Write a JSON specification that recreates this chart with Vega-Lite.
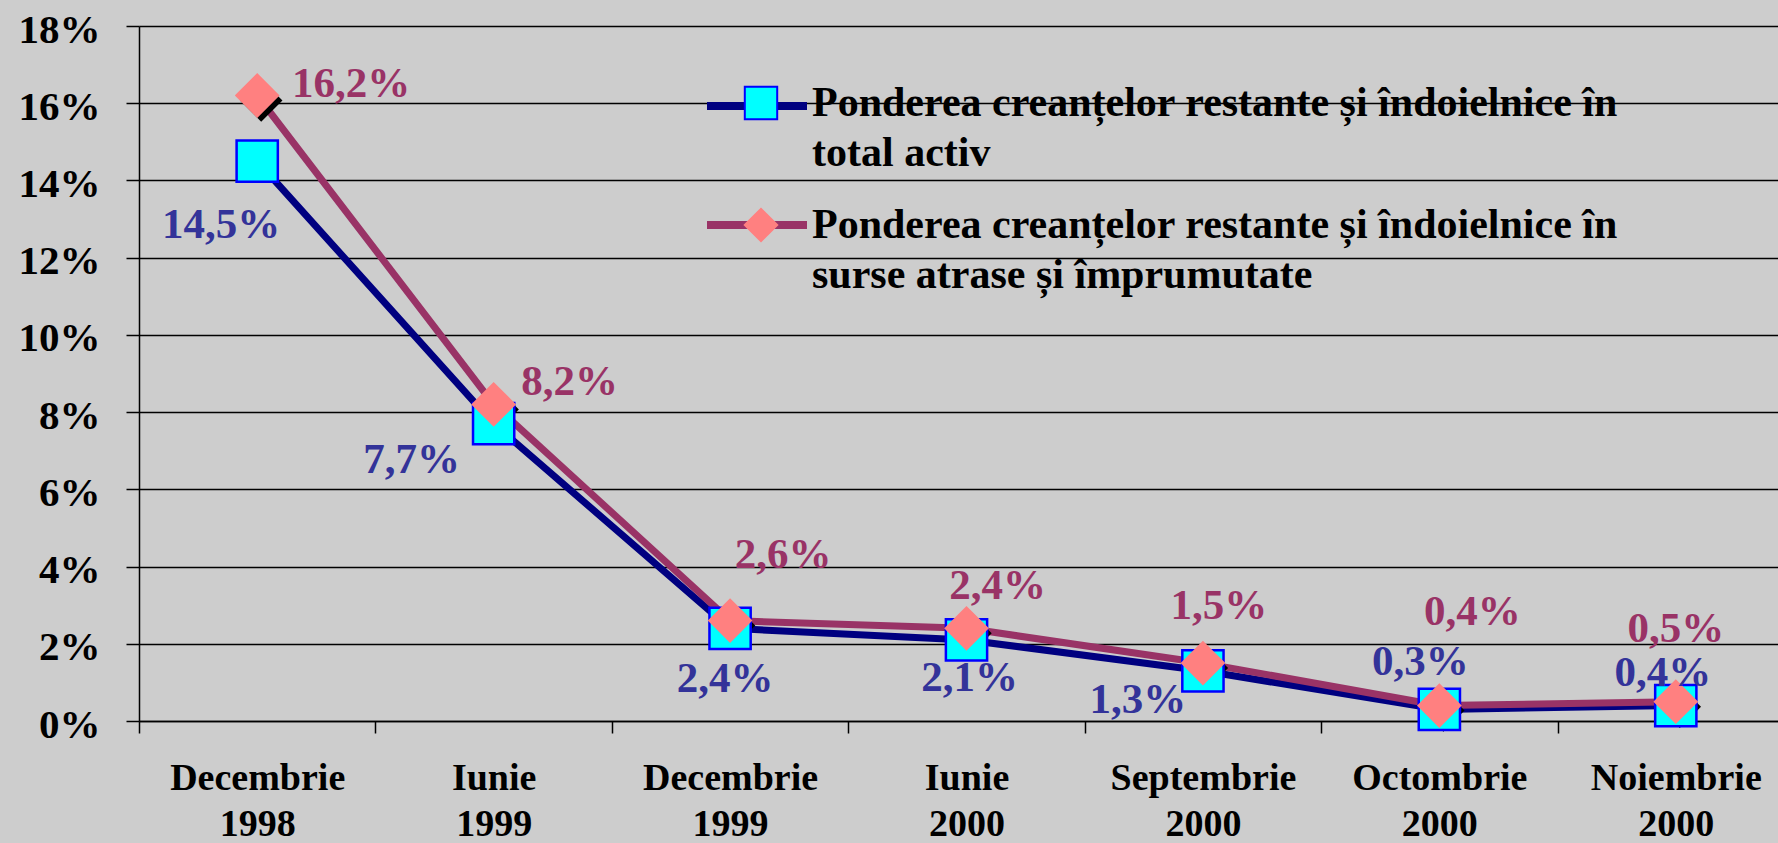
{
  "$schema": "https://vega.github.io/schema/vega-lite/v6.json",
  "width": 1639,
  "height": 695,
  "autosize": {"type": "none"},
  "padding": {"left": 139, "top": 26, "right": 0, "bottom": 122},
  "background": "#cdcdcd",
  "config": {
    "view": {"stroke": null},
    "font": "Liberation Serif",
    "locale": {"number": {"decimal": ",", "thousands": ".", "grouping": [3], "currency": ["", " lei"]}},
    "style": {"guide-label": {"lineHeight": 50}}
  },
  "data": {
    "values": [
      {"luna": "Decembrie 1998", "serie": "Ponderea creanțelor restante și îndoielnice în total activ", "valoare": 0.145},
      {"luna": "Iunie 1999", "serie": "Ponderea creanțelor restante și îndoielnice în total activ", "valoare": 0.077},
      {"luna": "Decembrie 1999", "serie": "Ponderea creanțelor restante și îndoielnice în total activ", "valoare": 0.024},
      {"luna": "Iunie 2000", "serie": "Ponderea creanțelor restante și îndoielnice în total activ", "valoare": 0.021},
      {"luna": "Septembrie 2000", "serie": "Ponderea creanțelor restante și îndoielnice în total activ", "valoare": 0.013},
      {"luna": "Octombrie 2000", "serie": "Ponderea creanțelor restante și îndoielnice în total activ", "valoare": 0.003},
      {"luna": "Noiembrie 2000", "serie": "Ponderea creanțelor restante și îndoielnice în total activ", "valoare": 0.004},
      {"luna": "Decembrie 1998", "serie": "Ponderea creanțelor restante și îndoielnice în surse atrase și împrumutate", "valoare": 0.162},
      {"luna": "Iunie 1999", "serie": "Ponderea creanțelor restante și îndoielnice în surse atrase și împrumutate", "valoare": 0.082},
      {"luna": "Decembrie 1999", "serie": "Ponderea creanțelor restante și îndoielnice în surse atrase și împrumutate", "valoare": 0.026},
      {"luna": "Iunie 2000", "serie": "Ponderea creanțelor restante și îndoielnice în surse atrase și împrumutate", "valoare": 0.024},
      {"luna": "Septembrie 2000", "serie": "Ponderea creanțelor restante și îndoielnice în surse atrase și împrumutate", "valoare": 0.015},
      {"luna": "Octombrie 2000", "serie": "Ponderea creanțelor restante și îndoielnice în surse atrase și împrumutate", "valoare": 0.004},
      {"luna": "Noiembrie 2000", "serie": "Ponderea creanțelor restante și îndoielnice în surse atrase și împrumutate", "valoare": 0.005}
    ]
  },
  "encoding": {
    "x": {
      "field": "luna",
      "type": "nominal",
      "scale": {
        "type": "band",
        "domain": ["Decembrie 1998", "Iunie 1999", "Decembrie 1999", "Iunie 2000", "Septembrie 2000", "Octombrie 2000", "Noiembrie 2000"],
        "range": [0, 1655],
        "paddingInner": 0,
        "paddingOuter": 0
      },
      "axis": {
        "title": null,
        "labelExpr": "split(datum.label, ' ')",
        "labelAngle": 0,
        "labelFont": "Liberation Serif",
        "labelFontWeight": "bold",
        "labelFontSize": 38,
        "labelColor": "black",
        "labelBaseline": "top",
        "labelLineHeight": 46,
        "labelPadding": 26,
        "labelLimit": 500,
        "labelOverlap": false,
        "tickBand": "extent",
        "tickSize": 12,
        "tickColor": "black",
        "tickWidth": 1.5,
        "domainColor": "black",
        "domainWidth": 1.5,
        "grid": false
      }
    },
    "y": {
      "field": "valoare",
      "type": "quantitative",
      "scale": {"domain": [0, 0.18], "nice": false},
      "axis": {
        "title": null,
        "values": [0, 0.02, 0.04, 0.06, 0.08, 0.1, 0.12, 0.14, 0.16, 0.18],
        "format": ".0%",
        "labelFont": "Liberation Serif",
        "labelFontWeight": "bold",
        "labelFontSize": 41,
        "labelColor": "black",
        "labelPadding": 26,
        "labelOffset": 4,
        "tickSize": 13,
        "tickColor": "black",
        "tickWidth": 1.5,
        "domainColor": "black",
        "domainWidth": 1.5,
        "grid": true,
        "gridColor": "black",
        "gridWidth": 1.3,
        "gridOpacity": 1
      }
    }
  },
  "layer": [
    {
      "transform": [{"filter": "indexof(datum.serie, 'total activ') > 0"}],
      "mark": {"type": "line", "strokeWidth": 7, "strokeJoin": "round", "strokeCap": "round"},
      "encoding": {
        "color": {
          "field": "serie",
          "type": "nominal",
          "scale": {
            "domain": ["Ponderea creanțelor restante și îndoielnice în total activ", "Ponderea creanțelor restante și îndoielnice în surse atrase și împrumutate"],
            "range": ["#000080", "#993366"]
          },
          "legend": {
            "orient": "none",
            "legendX": 564,
            "legendY": 26,
            "title": null,
            "padding": 0,
            "symbolType": "stroke",
            "symbolSize": 10000,
            "symbolStrokeWidth": 8,
            "symbolOffset": 0,
            "labelExpr": "''",
            "labelFontSize": 1,
            "labelOffset": 0,
            "rowPadding": 49
          }
        }
      }
    },
    {
      "transform": [{"filter": "indexof(datum.serie, 'surse') > 0"}],
      "mark": {"type": "line", "strokeWidth": 7, "strokeJoin": "round", "strokeCap": "round"},
      "encoding": {
        "color": {"field": "serie", "type": "nominal"}
      }
    },
    {
      "transform": [{"filter": "indexof(datum.serie, 'surse') > 0"}],
      "mark": {"type": "point", "shape": "diamond", "filled": true, "color": "black", "opacity": 1, "size": 1800, "xOffset": 4, "yOffset": 5}
    },
    {
      "mark": {"type": "point", "filled": true, "opacity": 1, "size": 1700, "strokeWidth": 2.5},
      "encoding": {
        "shape": {
          "field": "serie",
          "type": "nominal",
          "scale": {"range": ["diamond", "square"]},
          "legend": {
            "orient": "none", "legendX": 601, "legendY": 56, "title": null, "padding": 0,
            "values": ["Ponderea creanțelor restante și îndoielnice în total activ", "Ponderea creanțelor restante și îndoielnice în surse atrase și împrumutate"],
            "labelExpr": "[substring(datum.label, 0, 46), substring(datum.label, 47)]",
            "labelFont": "Liberation Serif", "labelFontWeight": "bold", "labelFontSize": 42, "labelColor": "black",
            "labelLimit": 2000, "labelBaseline": "middle", "labelOffset": 30,
            "symbolSize": 1050, "symbolStrokeWidth": 2, "symbolOffset": 0, "rowPadding": 30
          }
        },
        "fill": {
          "field": "serie",
          "type": "nominal",
          "scale": {"range": ["#FF8080", "#00FFFF"]},
          "legend": {
            "orient": "none", "legendX": 601, "legendY": 56, "title": null, "padding": 0,
            "values": ["Ponderea creanțelor restante și îndoielnice în total activ", "Ponderea creanțelor restante și îndoielnice în surse atrase și împrumutate"],
            "labelExpr": "[substring(datum.label, 0, 46), substring(datum.label, 47)]",
            "labelFont": "Liberation Serif", "labelFontWeight": "bold", "labelFontSize": 42, "labelColor": "black",
            "labelLimit": 2000, "labelBaseline": "middle", "labelOffset": 30,
            "symbolSize": 1050, "symbolStrokeWidth": 2, "symbolOffset": 0, "rowPadding": 30
          }
        },
        "stroke": {
          "field": "serie",
          "type": "nominal",
          "scale": {"range": ["#FF8080", "#0000FF"]},
          "legend": {
            "orient": "none", "legendX": 601, "legendY": 56, "title": null, "padding": 0,
            "values": ["Ponderea creanțelor restante și îndoielnice în total activ", "Ponderea creanțelor restante și îndoielnice în surse atrase și împrumutate"],
            "labelExpr": "[substring(datum.label, 0, 46), substring(datum.label, 47)]",
            "labelFont": "Liberation Serif", "labelFontWeight": "bold", "labelFontSize": 42, "labelColor": "black",
            "labelLimit": 2000, "labelBaseline": "middle", "labelOffset": 30,
            "symbolSize": 1050, "symbolStrokeWidth": 2, "symbolOffset": 0, "rowPadding": 30
          }
        }
      }
    },
    {"transform": [{"filter": "datum.luna == 'Decembrie 1998' && indexof(datum.serie, 'total activ') > 0"}], "mark": {"type": "text", "dx": -36, "dy": 64, "fontSize": 43, "fontWeight": "bold", "color": "#333399"}, "encoding": {"text": {"field": "valoare", "type": "quantitative", "format": ".1%"}}},
    {"transform": [{"filter": "datum.luna == 'Iunie 1999' && indexof(datum.serie, 'total activ') > 0"}], "mark": {"type": "text", "dx": -82, "dy": 36, "fontSize": 43, "fontWeight": "bold", "color": "#333399"}, "encoding": {"text": {"field": "valoare", "type": "quantitative", "format": ".1%"}}},
    {"transform": [{"filter": "datum.luna == 'Decembrie 1999' && indexof(datum.serie, 'total activ') > 0"}], "mark": {"type": "text", "dx": -5, "dy": 51, "fontSize": 43, "fontWeight": "bold", "color": "#333399"}, "encoding": {"text": {"field": "valoare", "type": "quantitative", "format": ".1%"}}},
    {"transform": [{"filter": "datum.luna == 'Iunie 2000' && indexof(datum.serie, 'total activ') > 0"}], "mark": {"type": "text", "dx": 3, "dy": 38, "fontSize": 43, "fontWeight": "bold", "color": "#333399"}, "encoding": {"text": {"field": "valoare", "type": "quantitative", "format": ".1%"}}},
    {"transform": [{"filter": "datum.luna == 'Septembrie 2000' && indexof(datum.serie, 'total activ') > 0"}], "mark": {"type": "text", "dx": -65, "dy": 29, "fontSize": 43, "fontWeight": "bold", "color": "#333399"}, "encoding": {"text": {"field": "valoare", "type": "quantitative", "format": ".1%"}}},
    {"transform": [{"filter": "datum.luna == 'Octombrie 2000' && indexof(datum.serie, 'total activ') > 0"}], "mark": {"type": "text", "dx": -19, "dy": -47, "fontSize": 43, "fontWeight": "bold", "color": "#333399"}, "encoding": {"text": {"field": "valoare", "type": "quantitative", "format": ".1%"}}},
    {"transform": [{"filter": "datum.luna == 'Noiembrie 2000' && indexof(datum.serie, 'total activ') > 0"}], "mark": {"type": "text", "dx": -13, "dy": -33, "fontSize": 43, "fontWeight": "bold", "color": "#333399"}, "encoding": {"text": {"field": "valoare", "type": "quantitative", "format": ".1%"}}},
    {"transform": [{"filter": "datum.luna == 'Decembrie 1998' && indexof(datum.serie, 'surse') > 0"}], "mark": {"type": "text", "dx": 94, "dy": -12, "fontSize": 43, "fontWeight": "bold", "color": "#993366"}, "encoding": {"text": {"field": "valoare", "type": "quantitative", "format": ".1%"}}},
    {"transform": [{"filter": "datum.luna == 'Iunie 1999' && indexof(datum.serie, 'surse') > 0"}], "mark": {"type": "text", "dx": 76, "dy": -22, "fontSize": 43, "fontWeight": "bold", "color": "#993366"}, "encoding": {"text": {"field": "valoare", "type": "quantitative", "format": ".1%"}}},
    {"transform": [{"filter": "datum.luna == 'Decembrie 1999' && indexof(datum.serie, 'surse') > 0"}], "mark": {"type": "text", "dx": 53, "dy": -66, "fontSize": 43, "fontWeight": "bold", "color": "#993366"}, "encoding": {"text": {"field": "valoare", "type": "quantitative", "format": ".1%"}}},
    {"transform": [{"filter": "datum.luna == 'Iunie 2000' && indexof(datum.serie, 'surse') > 0"}], "mark": {"type": "text", "dx": 31, "dy": -42, "fontSize": 43, "fontWeight": "bold", "color": "#993366"}, "encoding": {"text": {"field": "valoare", "type": "quantitative", "format": ".1%"}}},
    {"transform": [{"filter": "datum.luna == 'Septembrie 2000' && indexof(datum.serie, 'surse') > 0"}], "mark": {"type": "text", "dx": 16, "dy": -57, "fontSize": 43, "fontWeight": "bold", "color": "#993366"}, "encoding": {"text": {"field": "valoare", "type": "quantitative", "format": ".1%"}}},
    {"transform": [{"filter": "datum.luna == 'Octombrie 2000' && indexof(datum.serie, 'surse') > 0"}], "mark": {"type": "text", "dx": 33, "dy": -94, "fontSize": 43, "fontWeight": "bold", "color": "#993366"}, "encoding": {"text": {"field": "valoare", "type": "quantitative", "format": ".1%"}}},
    {"transform": [{"filter": "datum.luna == 'Noiembrie 2000' && indexof(datum.serie, 'surse') > 0"}], "mark": {"type": "text", "dx": 0, "dy": -73, "fontSize": 43, "fontWeight": "bold", "color": "#993366"}, "encoding": {"text": {"field": "valoare", "type": "quantitative", "format": ".1%"}}}
  ]
}
